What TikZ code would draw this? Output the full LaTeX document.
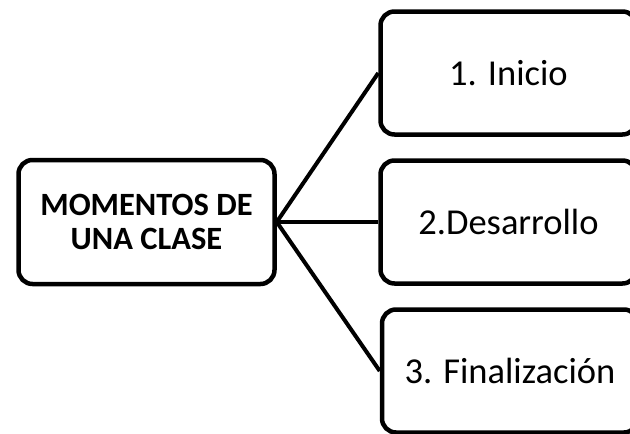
\documentclass[tikz,border=0pt]{standalone}
\usepackage{fontspec}
\setmainfont{Carlito}
\begin{document}
\begin{tikzpicture}[x=1pt,y=-1pt,
  box/.style={draw=black,line width=4.5pt,rounded corners=14pt,fill=white,
    minimum width=256pt,minimum height=124pt,inner sep=0pt,align=center},
  leftbox/.style={box,font=\fontsize{32.5}{34}\selectfont\bfseries},
  rightbox/.style={box,minimum height=123pt,font=\fontsize{36.5}{40}\selectfont},
  conn/.style={line width=4pt}]
\useasboundingbox (0,0) rectangle (630,434);
\clip (0,0) rectangle (630,434);
\fill[white] (0,0) rectangle (630,434);
\node[leftbox] (main) at (146.5,222) {MOMENTOS DE\\UNA CLASE};
\node[rightbox] (b1) at (508.5,73) {1. Inicio};
\node[rightbox] (b2) at (508.5,222) {2.Desarrollo};
\node[rightbox] (b3) at (510,371) {3. Finalización};
\draw[conn] (main.east) -- (b1.west);
\draw[conn] (main.east) -- (b2.west);
\draw[conn] (main.east) -- (b3.west);
\end{tikzpicture}
\end{document}
